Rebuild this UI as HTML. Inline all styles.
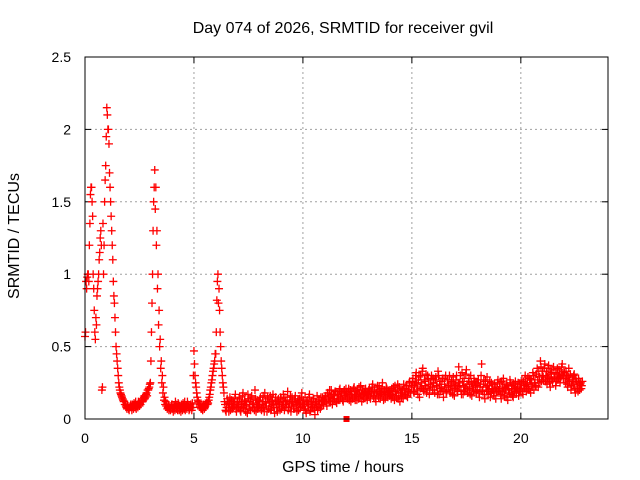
<!DOCTYPE html>
<html><head><meta charset="utf-8">
<style>
body{margin:0;background:#fff}
svg{display:block;font-family:"Liberation Sans",sans-serif}
</style></head>
<body>
<svg id="chart" width="640" height="480" xmlns="http://www.w3.org/2000/svg">
<rect width="640" height="480" fill="#fff"/>
<text x="343" y="33" font-size="16" text-anchor="middle">Day 074 of 2026, SRMTID for receiver gvil</text>
<text x="343" y="472" font-size="16" text-anchor="middle">GPS time / hours</text>
<text transform="translate(19,236) rotate(-90)" font-size="16" text-anchor="middle">SRMTID / TECUs</text>
<g id="grid"></g><g id="marks"></g>
<rect x="85" y="57" width="523" height="362" fill="none" stroke="#000" stroke-width="1"/>
</svg>
<script>
const xTicks=[0,5,10,15,20];
const yTicks=[0,0.5,1,1.5,2,2.5];
const yTickLabels=["0","0.5","1","1.5","2","2.5"];
const startHour=0;
const stepHours=0.05;
const tec=[
0.57,0.95,0.98,1.0,1.2,1.55,1.6,1.4,0.9,0.6,0.7,0.85,0.95,1.1,1.25,1.2,0.22,1.0,1.5,1.75,
2.15,2.0,1.9,1.6,1.4,1.2,0.95,0.8,0.6,0.45,0.35,0.25,0.2,0.17,0.15,0.13,0.12,0.1,0.08,0.1,
0.07,0.08,0.1,0.06,0.09,0.11,0.08,0.07,0.1,0.12,0.09,0.1,0.13,0.12,0.15,0.14,0.17,0.16,0.2,0.22,
0.25,0.6,1.0,1.5,1.72,1.6,1.3,1.0,0.75,0.55,0.4,0.3,0.22,0.15,0.12,0.1,0.08,0.06,0.09,0.07,
0.1,0.05,0.08,0.12,0.07,0.06,0.1,0.09,0.05,0.08,0.11,0.07,0.06,0.09,0.12,0.08,0.07,0.1,0.06,0.08,
0.47,0.3,0.22,0.15,0.12,0.1,0.08,0.07,0.06,0.09,0.08,0.1,0.12,0.11,0.15,0.2,0.25,0.3,0.35,0.4,
0.45,0.82,1.0,0.9,0.6,0.4,0.3,0.22,0.12,0.06,0.08,0.12,0.05,0.15,0.1,0.07,0.12,0.09,0.17,0.05,
0.12,0.08,0.15,0.05,0.1,0.18,0.07,0.12,0.09,0.04,0.14,0.1,0.06,0.16,0.11,0.08,0.2,0.05,0.13,0.09,
0.1,0.15,0.06,0.12,0.08,0.18,0.11,0.05,0.14,0.09,0.16,0.07,0.12,0.1,0.04,0.15,0.08,0.13,0.11,0.06,
0.14,0.09,0.17,0.06,0.12,0.1,0.19,0.08,0.13,0.05,0.15,0.11,0.07,0.16,0.1,0.12,0.06,0.14,0.09,0.18,
0.11,0.07,0.15,0.04,0.13,0.09,0.17,0.06,0.12,0.1,0.14,0.03,0.11,0.16,0.08,0.13,0.07,0.12,0.15,0.1,
0.13,0.16,0.09,0.18,0.12,0.15,0.2,0.1,0.17,0.14,0.19,0.11,0.16,0.13,0.21,0.15,0.18,0.12,0.2,0.16,
0.18,0.14,0.21,0.16,0.12,0.19,0.15,0.22,0.13,0.17,0.2,0.14,0.18,0.23,0.12,0.16,0.2,0.15,0.19,0.13,
0.17,0.21,0.14,0.18,0.24,0.15,0.19,0.12,0.2,0.16,0.22,0.14,0.18,0.25,0.13,0.19,0.16,0.21,0.15,0.18,
0.2,0.14,0.17,0.22,0.13,0.19,0.15,0.24,0.16,0.12,0.21,0.18,0.14,0.2,0.17,0.23,0.15,0.19,0.26,0.18,
0.22,0.28,0.18,0.25,0.32,0.2,0.27,0.15,0.3,0.22,0.35,0.19,0.26,0.31,0.21,0.28,0.17,0.24,0.3,0.2,
0.25,0.18,0.29,0.22,0.33,0.17,0.26,0.21,0.28,0.15,0.24,0.3,0.19,0.27,0.22,0.18,0.25,0.2,0.29,0.16,
0.23,0.3,0.19,0.36,0.25,0.2,0.32,0.17,0.28,0.22,0.34,0.18,0.26,0.21,0.3,0.16,0.24,0.28,0.19,0.25,
0.2,0.27,0.15,0.24,0.38,0.19,0.26,0.14,0.22,0.29,0.17,0.23,0.15,0.25,0.2,0.18,0.24,0.14,0.21,0.27,
0.18,0.25,0.14,0.22,0.28,0.16,0.2,0.24,0.13,0.21,0.27,0.17,0.23,0.15,0.2,0.26,0.18,0.22,0.16,0.24,
0.2,0.27,0.17,0.23,0.3,0.19,0.25,0.21,0.28,0.18,0.24,0.32,0.2,0.27,0.23,0.35,0.22,0.29,0.4,0.26,
0.33,0.27,0.38,0.3,0.24,0.35,0.28,0.22,0.32,0.26,0.36,0.29,0.23,0.31,0.27,0.34,0.25,0.3,0.38,0.28,
0.32,0.25,0.3,0.22,0.35,0.27,0.2,0.29,0.24,0.31,0.18,0.26,0.22,0.28,0.2,0.25,0.23
];
const startHourB=0.025;
const tecB=[
0.6,0.9,1.0,0.95,1.35,1.6,1.5,1.0,0.75,0.55,0.65,0.9,1.0,1.15,1.3,0.2,1.35,1.2,1.65,1.95,
2.1,2.0,1.7,1.5,1.3,1.1,0.85,0.7,0.5,0.4,0.3,0.22,0.18,0.16,0.14,0.12,0.1,0.09,0.07,0.09,
0.06,0.09,0.08,0.1,0.07,0.1,0.12,0.09,0.08,0.11,0.1,0.12,0.14,0.13,0.16,0.15,0.18,0.2,0.21,0.24,
0.4,0.8,1.3,1.6,1.45,1.2,0.9,0.65,0.5,0.35,0.25,0.18,0.13,0.1,0.09,0.07,0.1,0.08,0.06,0.1,
0.07,0.09,0.06,0.1,0.08,0.11,0.06,0.07,0.1,0.06,0.09,0.12,0.08,0.07,0.1,0.06,0.09,0.08,0.11,0.3,
0.38,0.25,0.18,0.13,0.11,0.09,0.07,0.08,0.1,0.07,0.09,0.11,0.1,0.13,0.17,0.22,0.27,0.33,0.38,0.45,
0.6,0.95,0.8,0.75,0.5,0.35,0.25,0.18,0.1,0.05,0.14,0.08,0.11,0.06,0.13,0.08,0.1,0.14,0.07,0.11,
0.09,0.14,0.06,0.11,0.16,0.08,0.13,0.05,0.1,0.17,0.07,0.12,0.15,0.08,0.1,0.06,0.14,0.11,0.07,0.12,
0.13,0.07,0.1,0.16,0.05,0.12,0.09,0.15,0.07,0.11,0.06,0.13,0.17,0.08,0.12,0.1,0.05,0.14,0.09,0.15,
0.07,0.12,0.1,0.15,0.08,0.13,0.06,0.11,0.16,0.09,0.12,0.07,0.14,0.1,0.05,0.13,0.11,0.08,0.15,0.1,
0.13,0.09,0.06,0.12,0.1,0.15,0.05,0.11,0.08,0.14,0.07,0.12,0.09,0.06,0.13,0.1,0.15,0.09,0.12,0.14,
0.15,0.11,0.18,0.14,0.2,0.12,0.17,0.13,0.16,0.19,0.12,0.17,0.14,0.2,0.15,0.18,0.13,0.19,0.16,0.21,
0.15,0.19,0.13,0.2,0.17,0.14,0.21,0.16,0.19,0.13,0.18,0.22,0.15,0.17,0.2,0.14,0.18,0.21,0.16,0.19,
0.2,0.15,0.19,0.22,0.16,0.2,0.14,0.18,0.23,0.15,0.19,0.17,0.21,0.16,0.2,0.14,0.22,0.17,0.19,0.16,
0.17,0.21,0.15,0.19,0.23,0.16,0.2,0.14,0.22,0.18,0.15,0.2,0.24,0.17,0.21,0.16,0.2,0.25,0.18,0.23,
0.26,0.19,0.23,0.3,0.24,0.17,0.29,0.21,0.25,0.33,0.2,0.27,0.23,0.18,0.3,0.24,0.2,0.27,0.22,0.28,
0.2,0.27,0.23,0.17,0.3,0.24,0.19,0.26,0.2,0.28,0.22,0.18,0.27,0.23,0.3,0.2,0.26,0.17,0.24,0.21,
0.27,0.2,0.25,0.22,0.3,0.17,0.26,0.23,0.19,0.31,0.24,0.2,0.28,0.17,0.25,0.22,0.2,0.26,0.23,0.18,
0.25,0.18,0.22,0.3,0.2,0.24,0.17,0.27,0.19,0.23,0.2,0.26,0.18,0.21,0.24,0.16,0.22,0.19,0.25,0.2,
0.22,0.17,0.26,0.19,0.21,0.24,0.15,0.23,0.2,0.18,0.25,0.21,0.16,0.24,0.19,0.22,0.2,0.25,0.19,0.21,
0.24,0.19,0.26,0.21,0.25,0.22,0.29,0.2,0.25,0.27,0.22,0.3,0.25,0.23,0.31,0.27,0.33,0.25,0.36,0.3,
0.29,0.35,0.26,0.33,0.29,0.37,0.25,0.31,0.27,0.34,0.28,0.32,0.26,0.35,0.29,0.31,0.28,0.36,0.3,0.33,
0.28,0.33,0.24,0.29,0.26,0.31,0.23,0.27,0.3,0.21,0.28,0.25,0.19,0.26,0.24,0.21,0.26
];
const gapHours=[12.0];
const gapValues=[0];
const NS="http://www.w3.org/2000/svg";
const L=85,R=608,T=57,B=419,XMAX=24,YMAX=2.5;
function xs(v){return L+(v/XMAX)*(R-L);}
function ys(v){return B-(v/YMAX)*(B-T);}
function mk(tag,at){const e=document.createElementNS(NS,tag);for(const k in at)e.setAttribute(k,at[k]);return e;}
const grid=document.getElementById('grid'),marks=document.getElementById('marks'),svg=document.getElementById('chart');
xTicks.forEach(t=>{const x=xs(t);
 if(t>0){const g=mk('line',{x1:x,x2:x,y1:T,y2:B,stroke:'#a0a0a0','stroke-dasharray':'2,3'});
 
 grid.appendChild(g);}
 grid.appendChild(mk('line',{x1:x,x2:x,y1:B,y2:B-6,stroke:'#000'}));
 grid.appendChild(mk('line',{x1:x,x2:x,y1:T,y2:T+6,stroke:'#000'}));
 const tx=mk('text',{x:x,y:443,'font-size':14,'text-anchor':'middle'});tx.textContent=String(t);
 
 svg.appendChild(tx);
});
yTicks.forEach((t,i)=>{const y=ys(t);
 if(t>0&&t<YMAX){const g=mk('line',{x1:L,x2:R,y1:y,y2:y,stroke:'#a0a0a0','stroke-dasharray':'2,3'});
 
 grid.appendChild(g);}
 grid.appendChild(mk('line',{x1:L,x2:L+6,y1:y,y2:y,stroke:'#000'}));
 grid.appendChild(mk('line',{x1:R,x2:R-6,y1:y,y2:y,stroke:'#000'}));
 const tx=mk('text',{x:71,y:y+5,'font-size':14,'text-anchor':'end'});tx.textContent=yTickLabels[i];
 
 svg.appendChild(tx);
});
function plus(x,y){return 'M'+(x-4)+' '+y+'h8M'+x+' '+(y-4)+'v8';}
let d='';
tec.forEach((v,i)=>{d+=plus(xs(startHour+i*stepHours),ys(v));});
tecB.forEach((v,i)=>{d+=plus(xs(startHourB+i*stepHours),ys(v));});
const p=mk('path',{d:d,stroke:'#ff0000','stroke-width':1.3,fill:'none'});


marks.appendChild(p);
gapHours.forEach((h,i)=>{const r=mk('rect',{x:xs(h)-3,y:ys(gapValues[i])-3,width:6,height:6,fill:'#ff0000'});
 
 
 marks.appendChild(r);});
</script>
</body></html>
